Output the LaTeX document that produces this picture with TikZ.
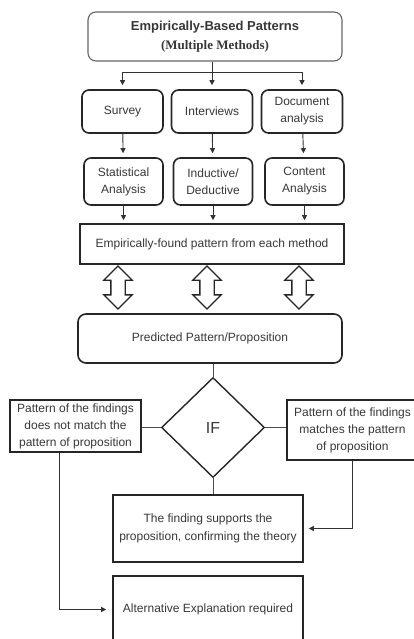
\documentclass[tikz,border=0pt]{standalone}
\usepackage{fontspec}
\setmainfont{Liberation Sans}
\newfontfamily\serifbf{Liberation Serif}
\usetikzlibrary{arrows.meta,positioning,calc,shapes.geometric,shapes.arrows}

\begin{document}
\begin{tikzpicture}[
  x=1pt, y=-1pt,
  >=Stealth,
  font=\fontsize{12}{17}\selectfont,
  every node/.style={text=black!78},
  arr/.style={-{Triangle[length=5pt,width=5pt]}, line width=0.9pt,
              draw=black!80, shorten >=4pt},
  link/.style={line width=0.9pt, draw=black!70},
  topbox/.style={draw=black!60, line width=1.1pt, rounded corners=8pt,
    minimum width=254pt, minimum height=49pt, align=center, inner sep=0pt,
    font=\fontsize{13}{19}\selectfont\bfseries},
  mbox/.style={draw=black!85, line width=1.6pt, rounded corners=7pt,
    align=center, inner sep=0pt},
  sbox/.style={draw=black!85, line width=1.6pt, align=center, inner sep=0pt},
  dblarr/.style={double arrow, draw=black!85, line width=1.3pt,
    shape border rotate=90, minimum height=43pt, minimum width=27pt,
    double arrow head extend=7pt, inner sep=6.5pt},
  ifnode/.style={diamond, draw=black!85, line width=1.4pt, aspect=1.03,
    minimum width=103pt, minimum height=100pt, inner sep=0pt,
    font=\fontsize{16}{18}\selectfont},
]
\useasboundingbox[fill=white] (0,0) rectangle (414,639);

% ── top: source of the patterns ─────────────────────────────────────────────
\node[topbox] (top) at (215,36.5)
  {Empirically-Based Patterns\\ {\serifbf (Multiple Methods)}};

% ── methods ─────────────────────────────────────────────────────────────────
\node[mbox, minimum width=81pt, minimum height=43pt] (sur) at (122.5,111.5) {Survey};
\node[mbox, minimum width=81pt, minimum height=43pt] (int) at (212,111.5) {Interviews};
\node[mbox, minimum width=81pt, minimum height=43pt] (doc) at (302,111.5) {Document\\analysis};

% ── analysis per method ─────────────────────────────────────────────────────
\node[mbox, minimum width=79pt, minimum height=47pt] (sta) at (123.5,181.5) {Statistical\\Analysis};
\node[mbox, minimum width=79pt, minimum height=47pt] (ind) at (213,181.5) {Inductive/\\Deductive};
\node[mbox, minimum width=79pt, minimum height=47pt] (con) at (304.5,181.5) {Content\\Analysis};

\node[sbox, minimum width=264pt, minimum height=40pt] (found) at (212,244)
  {Empirically-found pattern from each method};

% ── two-way arrows ──────────────────────────────────────────────────────────
\node[dblarr] (dA) at (118,287.5) {};
\node[dblarr] (dB) at (207,287.5) {};
\node[dblarr] (dC) at (299,287.5) {};

\node[mbox, rounded corners=8pt, minimum width=264pt, minimum height=49pt] (pred) at (210,338.5)
  {Predicted Pattern/Proposition};

% ── decision ────────────────────────────────────────────────────────────────
\node[ifnode] (dia) at (213,427.5) {IF};

\node[sbox, minimum width=131pt, minimum height=52pt] (left) at (75.5,426)
  {Pattern of the findings\\does not match the\\pattern of proposition};
\node[sbox, minimum width=131pt, minimum height=60pt] (right) at (352.5,430)
  {Pattern of the findings\\matches the pattern\\of proposition};

\node[sbox, minimum width=190pt, minimum height=67pt, font=\fontsize{12}{18}\selectfont] (find) at (208,528.5)
  {The finding supports the\\proposition, confirming the theory};
\node[sbox, minimum width=190pt, minimum height=67pt] (alt) at (208,609.5)
  {Alternative Explanation required};

% ── arrows ──────────────────────────────────────────────────────────────────
% top fans out to the three methods
\draw[arr] (int.north |- top.south) -- (int.north);
\draw[arr] (int.north |- top.south) -- ++(0,11) -| (sur.north);
\draw[arr] (int.north |- top.south) -- ++(0,11) -| (doc.north);

% method -> analysis
\draw[arr] (sur) -- (sta);
\draw[arr] (int) -- (ind);
\draw[arr] (doc) -- (con);

% analysis -> found pattern
\draw[arr, shorten >=3pt] (sta.south) -- (sta.south |- found.north);
\draw[arr, shorten >=3pt] (ind.south) -- (ind.south |- found.north);
\draw[arr, shorten >=3pt] (con.south) -- (con.south |- found.north);

% decision links
\draw[link] (pred.south -| dia.north) -- (dia.north);
\draw[link] (dia.west) -- (dia.west -| left.east);
\draw[link] (dia.east) -- (dia.east -| right.west);
\draw[link] (dia.south) -- (dia.south |- find.north);

\draw[arr, shorten >=5pt] (right.south) |- (find.east);
\draw[arr, shorten >=6pt] ([xshift=-16.5pt]left.south) |- (alt.west);
\end{tikzpicture}
\end{document}
